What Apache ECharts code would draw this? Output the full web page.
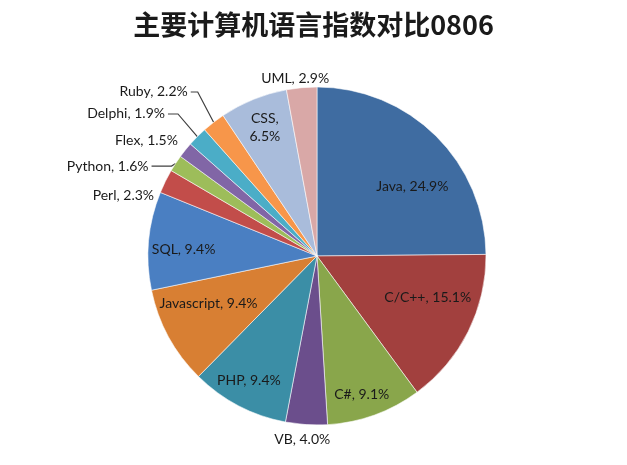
<!DOCTYPE html>
<html>
<head>
<meta charset="utf-8">
<script src="https://cdn.jsdelivr.net/npm/echarts@6/dist/echarts.min.js"></script>
<style>
html,body{margin:0;padding:0;background:#fff;}
#main{width:627px;height:465px;}
</style>
</head>
<body>
<div id="main"></div>
<script>
// data
var langs = ['Java','C/C++','C#','VB','PHP','Javascript','SQL','Perl','Python','Flex','Delphi','Ruby','CSS','UML'];
var shares = [24.9,15.1,9.1,4.0,9.4,9.4,9.4,2.3,1.6,1.5,1.9,2.2,6.5,2.9];

var sliceColors = ['#3f6ca1','#a2403e','#89a64b','#6b4e8c','#3b8ea6','#d87f33','#4a7fc2',
                   '#c24d4a','#9dbd5a','#8166a6','#4badc7','#f7964a','#a9bcdb','#d9a8a7'];

// label placement: rad = fraction of radius, da = angle shift (deg), len2 = horizontal tail
var labelPlace = [
  {rad:0.70, da:9,    align:'center'},
  {rad:0.70, da:-6,   align:'center'},
  {rad:0.86, da:2,    align:'center'},
  {rad:1.092,da:1,    align:'center'},
  {rad:0.84, da:1,    align:'center'},
  {rad:0.70, da:5,    align:'center'},
  {rad:0.79, da:-2.6, align:'center'},
  {rad:1.012,da:-5.5, align:'right'},
  {rad:1.012,da:-1.5, align:'right', len2:20, line:true},
  {rad:1.056,da:1.5,  align:'right'},
  {rad:1.176,da:0.7,  align:'right', len2:10, line:true},
  {rad:1.2,  da:1.7,  align:'right', len2:7,  line:true},
  {rad:0.82, da:0,    align:'center'},
  {rad:1.06, da:-1.8, align:'center'}
];

var CX = 317, CY = 256, R = 169;

var total = 0;
for (var i = 0; i < shares.length; i++) total += shares[i];
var midAngle = [];
var acc = 0;
for (var i = 0; i < shares.length; i++) {
  midAngle.push((acc + shares[i] / 2) / total * 360);
  acc += shares[i];
}

function polar(deg, r) {
  var a = deg * Math.PI / 180;
  return [CX + Math.sin(a) * r, CY - Math.cos(a) * r];
}

var pieData = [];
for (var i = 0; i < langs.length; i++) {
  pieData.push({
    name: langs[i],
    value: shares[i],
    itemStyle: {color: sliceColors[i]},
    labelLine: {show: !!labelPlace[i].line}
  });
}

var chart = echarts.init(document.getElementById('main'));
chart.setOption({
  backgroundColor: '#fff',
  animation: false,
  title: {
    text: '主要计算机语言指数对比0806',
    left: 'center',
    top: 6,
    textStyle: {fontFamily: 'Noto Sans CJK SC', fontSize: 27, fontWeight: 'bold', color: '#1a1a1a'}
  },
  series: [{
    type: 'pie',
    center: [CX, CY],
    radius: R,
    startAngle: 90,
    clockwise: true,
    avoidLabelOverlap: false,
    itemStyle: {borderColor: 'rgba(255,255,255,0.7)', borderWidth: 0.8},
    label: {
      show: true,
      position: 'outside',
      fontFamily: 'Lato',
      fontSize: 14,
      color: '#1a1a1a',
      lineHeight: 18,
      formatter: function (p) {
        var sep = p.name === 'CSS' ? ',\n' : ', ';
        return p.name + sep + p.value.toFixed(1) + '%';
      }
    },
    labelLine: {lineStyle: {color: '#404040', width: 1.2}},
    labelLayout: function (params) {
      var i = params.dataIndex;
      var pl = labelPlace[i];
      var mid = midAngle[i];
      var pt = polar(mid + pl.da, pl.rad * R);
      var out = {verticalAlign: 'middle', align: pl.align};
      if (pl.line) {
        var start = polar(mid, R);
        var end = [pt[0] - pl.len2, pt[1]];
        out.labelLinePoints = [start, pt, end];
        out.x = end[0] - 3;
        out.y = end[1];
      } else {
        out.x = pt[0] - (pl.align === 'right' ? 3 : 0);
        out.y = pt[1];
      }
      return out;
    },
    data: pieData
  }]
});
</script>
</body>
</html>
